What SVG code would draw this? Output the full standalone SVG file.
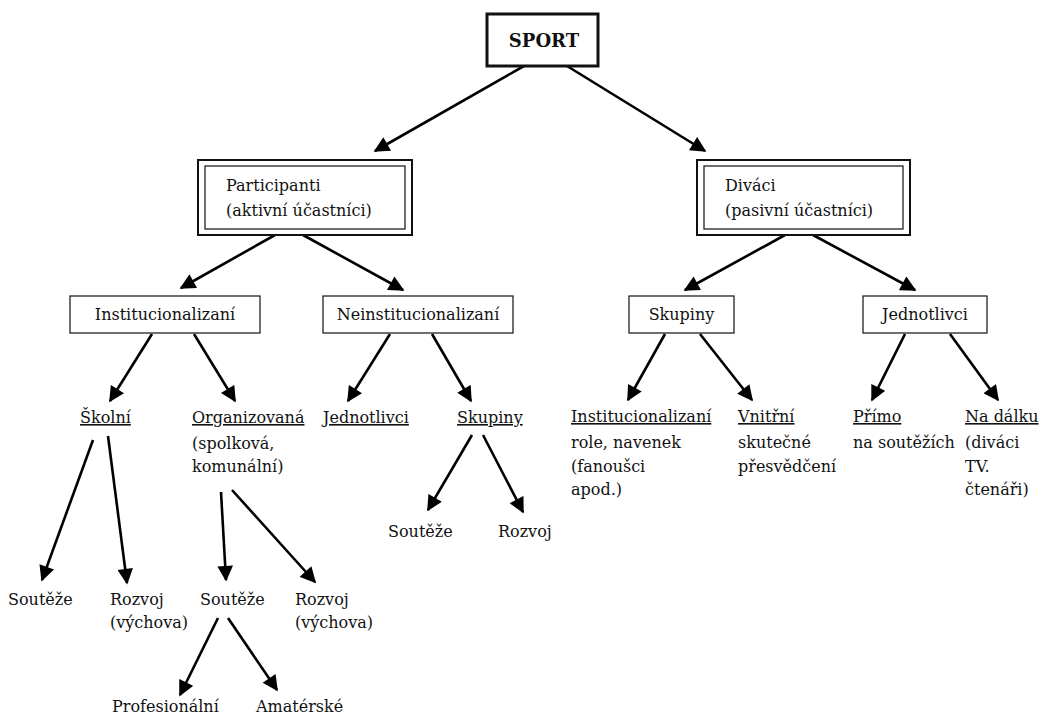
<svg xmlns="http://www.w3.org/2000/svg" width="1047" height="716" viewBox="0 0 1047 716">
<style>
text{font-family:"DejaVu Serif","Liberation Serif",serif;font-size:16px;fill:#111}
.b{font-weight:bold;font-size:18px}
.u{text-decoration:underline}
.box{fill:#fff;stroke:#222;stroke-width:1.3}
.thick{fill:#fff;stroke:#111;stroke-width:3}
.c line{stroke:#000;stroke-width:2.6;marker-end:url(#ah)}
</style>
<defs>
<marker id="ah" viewBox="0 0 10 10" refX="9" refY="5" markerWidth="6.5" markerHeight="6" orient="auto" markerUnits="strokeWidth">
<path d="M0,0 L10,5 L0,10 z" fill="#000"/>
</marker>
</defs>
<g class="c">
<line x1="524" y1="66" x2="375" y2="151"/>
<line x1="567" y1="66" x2="705" y2="151"/>
<line x1="275" y1="235" x2="181" y2="288"/>
<line x1="303" y1="235" x2="403" y2="290"/>
<line x1="785" y1="235" x2="685" y2="290"/>
<line x1="813" y1="235" x2="915" y2="290"/>
<line x1="152" y1="334" x2="110" y2="401"/>
<line x1="194" y1="334" x2="235" y2="401"/>
<line x1="390" y1="334" x2="348" y2="401"/>
<line x1="432" y1="334" x2="471" y2="401"/>
<line x1="665" y1="334" x2="628" y2="400"/>
<line x1="700" y1="334" x2="752" y2="400"/>
<line x1="905" y1="334" x2="872" y2="400"/>
<line x1="950" y1="334" x2="998" y2="400"/>
<line x1="93" y1="440" x2="42" y2="580"/>
<line x1="108" y1="436" x2="127" y2="583"/>
<line x1="221" y1="492" x2="226" y2="580"/>
<line x1="232" y1="490" x2="315" y2="582"/>
<line x1="218" y1="618" x2="180" y2="695"/>
<line x1="228" y1="618" x2="277" y2="690"/>
<line x1="472" y1="435" x2="428" y2="510"/>
<line x1="483" y1="435" x2="523" y2="512"/>
</g>
<g id="sport">
<rect class="thick" x="487" y="14" width="111" height="52"/>
<text class="b" x="544" y="47" text-anchor="middle">SPORT</text>
</g>
<g id="participanti">
<rect class="thick" x="198" y="160" width="214" height="75" style="stroke-width:2"/>
<rect class="box" x="205" y="166" width="200" height="63"/>
<text x="226" y="191">Participanti</text>
<text x="226" y="216">(aktivní účastníci)</text>
</g>
<g id="divaci">
<rect class="thick" x="697" y="160" width="213" height="75" style="stroke-width:2"/>
<rect class="box" x="704" y="166" width="199" height="63"/>
<text x="725" y="191">Diváci</text>
<text x="725" y="216">(pasivní účastníci)</text>
</g>
<g id="institucionalizani">
<rect class="box" x="70" y="296" width="190" height="37"/>
<text x="165" y="320" text-anchor="middle">Institucionalizaní</text>
</g>
<g id="neinstitucionalizani">
<rect class="box" x="323" y="296" width="190" height="37"/>
<text x="418" y="320" text-anchor="middle">Neinstitucionalizaní</text>
</g>
<g id="skupiny-divaci">
<rect class="box" x="629" y="296" width="105" height="37"/>
<text x="681.5" y="320" text-anchor="middle">Skupiny</text>
</g>
<g id="jednotlivci-divaci">
<rect class="box" x="863" y="296" width="124" height="37"/>
<text x="925" y="320" text-anchor="middle">Jednotlivci</text>
</g>
<g id="skolni"><text class="u" x="80" y="423">Školní</text></g>
<g id="organizovana">
<text class="u" x="192" y="423">Organizovaná</text>
<text x="192" y="449">(spolková,</text>
<text x="192" y="472">komunální)</text>
</g>
<g id="jednotlivci-part"><text class="u" x="323" y="423">Jednotlivci</text></g>
<g id="skupiny-part"><text class="u" x="457" y="423">Skupiny</text></g>
<g id="inst-div">
<text class="u" x="571" y="422">Institucionalizaní</text>
<text x="571" y="448">role, navenek</text>
<text x="571" y="472">(fanoušci</text>
<text x="571" y="495">apod.)</text>
</g>
<g id="vnitrni">
<text class="u" x="738" y="422">Vnitřní</text>
<text x="738" y="448">skutečné</text>
<text x="738" y="472">přesvědčení</text>
</g>
<g id="primo">
<text class="u" x="853" y="422">Přímo</text>
<text x="853" y="448">na soutěžích</text>
</g>
<g id="nadalku">
<text class="u" x="965" y="422">Na dálku</text>
<text x="965" y="448">(diváci</text>
<text x="965" y="472">TV.</text>
<text x="965" y="495">čtenáři)</text>
</g>
<g id="skolni-souteze"><text x="8" y="605">Soutěže</text></g>
<g id="skolni-rozvoj">
<text x="110" y="605">Rozvoj</text>
<text x="110" y="628">(výchova)</text>
</g>
<g id="org-souteze"><text x="200" y="605">Soutěže</text></g>
<g id="org-rozvoj">
<text x="295" y="605">Rozvoj</text>
<text x="295" y="628">(výchova)</text>
</g>
<g id="profesionalni"><text x="112" y="712">Profesionální</text></g>
<g id="amaterske"><text x="256" y="712">Amatérské</text></g>
<g id="skup-souteze"><text x="388" y="537">Soutěže</text></g>
<g id="skup-rozvoj"><text x="498" y="537">Rozvoj</text></g>
</svg>
